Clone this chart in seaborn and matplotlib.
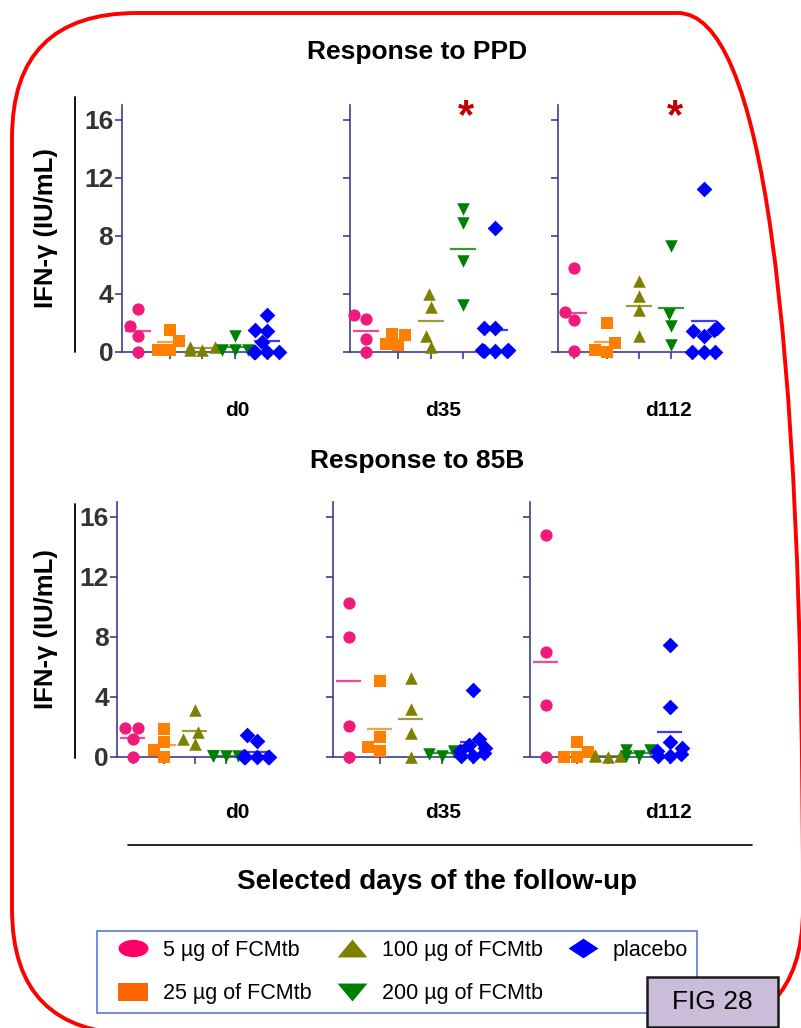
import numpy as np
import pandas as pd
import matplotlib
matplotlib.use("Agg")
import matplotlib.pyplot as plt
import seaborn as sns
from matplotlib.lines import Line2D
from matplotlib.patches import FancyBboxPatch, Rectangle
from matplotlib.path import Path
from matplotlib.transforms import Affine2D

# ---------------------------------------------------------------- data
groups = ["5 \u00b5g of FCMtb", "25 \u00b5g of FCMtb", "100 \u00b5g of FCMtb",
          "200 \u00b5g of FCMtb", "placebo"]
days = ["d0", "d35", "d112"]
yticks = [0, 4, 8, 12, 16]

# IFN-gamma (IU/mL) per subject, one list per dose group
ppd_d0 = [[2.95, 1.75, 1.1, 0.0],
          [1.5, 0.75, 0.15, 0.15],
          [0.35, 0.3, 0.15, 0.1],
          [1.1, 0.1, 0.1, 0.1],
          [2.5, 1.5, 1.45, 0.7, 0.0, 0.0, 0.0, 0.0]]
ppd_d35 = [[2.55, 2.25, 0.85, 0.0],
           [1.25, 1.15, 0.5, 0.45],
           [3.95, 3.1, 1.1, 0.3],
           [9.85, 8.85, 6.25, 3.25],
           [8.5, 1.6, 1.6, 0.1, 0.1, 0.05, 0.05, 0.05]]
ppd_d112 = [[5.8, 2.75, 2.15, 0.05],
            [1.95, 0.6, 0.15, 0.0],
            [4.9, 3.85, 2.9, 1.05],
            [7.25, 2.6, 1.75, 0.45],
            [11.2, 1.6, 1.5, 1.4, 1.1, 0.0, 0.0, 0.0]]
b85_d0 = [[1.95, 1.95, 1.2, 0.0],
          [1.85, 1.0, 0.45, 0.0],
          [3.15, 1.7, 1.2, 0.9],
          [0.05, 0.05, 0.05, 0.05],
          [1.45, 1.1, 0.05, 0.0, 0.0, 0.0, 0.0, 0.0]]
b85_d35 = [[10.3, 8.0, 2.1, 0.0],
           [5.05, 1.35, 0.65, 0.4],
           [5.25, 3.2, 1.6, 0.0],
           [0.4, 0.35, 0.2, 0.1],
           [4.5, 1.2, 0.8, 0.6, 0.4, 0.3, 0.1, 0.1]]
b85_d112 = [[14.8, 7.0, 3.45, 0.0],
            [1.0, 0.35, 0.0, 0.0],
            [0.15, 0.05, 0.05, 0.0],
            [0.5, 0.45, 0.1, 0.05],
            [7.45, 3.35, 1.0, 0.6, 0.4, 0.2, 0.1, 0.1]]

# days with a significant difference (marked with an asterisk above 200 µg)
ppd_signif = ["d35", "d112"]

# ---------------------------------------------------------------- style
colors = ["#f01a7a", "#ff8000", "#808000", "#008000", "#0000ff"]
mean_colors = ["#f2489a", "#ff9f45", "#9c9c3c", "#3a9a3a", "#3c3cff"]
legend_colors = ["#ff0066", "#ff6600", "#808000", "#008000", "#0000ff"]
markers = ["o", "s", "^", "v", "D"]
sizes = [8.8, 8.5, 9, 9, 8]
axis_col = "#3d3d8f"

sns.set_style("ticks")
plt.rcParams["font.family"] = ["Liberation Sans", "DejaVu Sans"]
plt.rcParams["text.color"] = "black"
plt.rcParams["axes.labelcolor"] = "black"

W, H = 801, 1028
fig = plt.figure(figsize=(W / 100, H / 100), dpi=100)


def px_rect(left, top, width, bottom):
    return [left / W, 1 - bottom / H, width / W, (bottom - top) / H]


top_axes = [fig.add_axes(px_rect(l, 105, 161.5, 351.7)) for l in (121.7, 350, 558.3)]
bot_axes = [fig.add_axes(px_rect(l, 502, 155, 757)) for l in (117.3, 333.3, 530)]


def to_frame(panel):
    rows = [(g, v) for g, vals in zip(groups, panel) for v in vals]
    return pd.DataFrame(rows, columns=["group", "value"])


def draw_panel(ax, panel, first):
    df = to_frame(panel)
    for i, g in enumerate(groups):
        sub = df[df["group"] == g]
        sns.swarmplot(data=sub, x="group", y="value", order=groups,
                      color=colors[i], marker=markers[i], size=sizes[i],
                      linewidth=0, warn_thresh=1, ax=ax, zorder=3)
        ax.hlines(sub["value"].mean(), i - 0.4, i + 0.4,
                  color=mean_colors[i], lw=1.6, zorder=2)
    for coll in ax.collections:
        coll.set_clip_on(False)
    ax.set_xlim(-0.5, 4.5)
    ax.set_ylim(0, 17)
    ax.set_yticks(yticks)
    ax.set_xticks(range(len(groups)))
    ax.set_xlabel("")
    ax.set_ylabel("")
    for s in ("top", "right"):
        ax.spines[s].set_visible(False)
    for s in ("left", "bottom"):
        ax.spines[s].set_color(axis_col)
        ax.spines[s].set_linewidth(1.2)
    ax.tick_params(axis="both", direction="out", length=5, width=1.2,
                   color=axis_col, labelbottom=False, pad=1)
    ax.patch.set_alpha(0)
    if first:
        ax.set_yticklabels([str(t) for t in yticks], fontsize=19,
                           fontweight="bold", color="#333333")
        ax.set_ylabel("IFN-\u03b3 (IU/mL)", fontsize=18.5, fontweight="bold",
                      color="black")
    else:
        ax.tick_params(axis="y", labelleft=False)


for k, (ax, panel) in enumerate(zip(top_axes, [ppd_d0, ppd_d35, ppd_d112])):
    draw_panel(ax, panel, k == 0)
    if days[k] in ppd_signif:
        ax.text(3.1, 15.4, "*", ha="center", va="baseline", fontsize=30,
                fontweight="bold", color="#c00000", clip_on=False)
for k, (ax, panel) in enumerate(zip(bot_axes, [b85_d0, b85_d35, b85_d112])):
    draw_panel(ax, panel, k == 0)

top_axes[0].yaxis.set_label_coords((58 - 121.7) / 161.5, 0.5)
bot_axes[0].yaxis.set_label_coords((58 - 117.3) / 155, 0.5)

# thin rules beside the y-axis titles
fig.add_artist(Line2D([75 / W] * 2, [1 - 97 / H, 1 - 352 / H], color="black", lw=1.3))
fig.add_artist(Line2D([75 / W] * 2, [1 - 504 / H, 1 - 758 / H], color="black", lw=1.3))

# section titles and day labels
fig.text(417 / W, 1 - 52 / H, "Response to PPD", ha="center", va="center",
         fontsize=19, fontweight="bold")
fig.text(417 / W, 1 - 461 / H, "Response to 85B", ha="center", va="center",
         fontsize=19, fontweight="bold")
for d, xt, xb in zip(days, (237, 443, 668), (237, 443, 668)):
    fig.text(xt / W, 1 - 410 / H, d, ha="center", va="center", fontsize=15,
             fontweight="bold")
    fig.text(xb / W, 1 - 813 / H, d, ha="center", va="center", fontsize=15,
             fontweight="bold")

fig.add_artist(Line2D([128 / W, 752 / W], [1 - 845 / H] * 2, color="black", lw=1.2))
fig.text(437 / W, 1 - 882 / H, "Selected days of the follow-up", ha="center",
         va="center", fontsize=20, fontweight="bold")

# legend
ellipse = Path.unit_circle().transformed(Affine2D().scale(1.0, 0.58))
rect = Path([(-1, -0.62), (1, -0.62), (1, 0.62), (-1, 0.62), (-1, -0.62)],
            [1, 2, 2, 2, 79])
tri_up = Path([(-1, -0.6), (1, -0.6), (0, 0.6), (-1, -0.6)], [1, 2, 2, 79])
tri_dn = Path([(-1, 0.6), (1, 0.6), (0, -0.6), (-1, 0.6)], [1, 2, 2, 79])
diamond = Path([(-1, 0), (0, 0.66), (1, 0), (0, -0.66), (-1, 0)], [1, 2, 2, 2, 79])
leg_markers = [ellipse, rect, tri_up, tri_dn, diamond]
handles = [Line2D([], [], linestyle="none", marker=m, markersize=21.5,
                  markerfacecolor=c, markeredgewidth=0)
           for m, c in zip(leg_markers, legend_colors)]
leg = fig.legend(handles, groups, ncol=3, loc="upper left",
                 bbox_to_anchor=(97 / W, 1 - 931 / H), fontsize=15.5,
                 frameon=True, fancybox=False, edgecolor="#5b7bd5",
                 framealpha=1, borderpad=0.4, handlelength=2.55,
                 handletextpad=0.11, columnspacing=0.6, labelspacing=1.05,
                 borderaxespad=0)
leg.get_frame().set_linewidth(1.2)

# rounded red frame around the figure
fig.add_artist(FancyBboxPatch((0.12, -0.06), 7.91, 10.21,
                              boxstyle="round,pad=0,rounding_size=1.25",
                              transform=fig.dpi_scale_trans, fill=False,
                              edgecolor="#ff0000", lw=2.8, zorder=1))

# figure tag
fig.add_artist(Rectangle((647 / W, 1 - 1027 / H), 131 / W, 50 / H,
                         facecolor="#c9bdd9", edgecolor="#1a1a1a", lw=1.8,
                         zorder=20))
fig.text(712.5 / W, 1 - 1002 / H, "FIG 28", ha="center", va="center",
         fontsize=19, zorder=21)

fig.savefig("out.png", dpi=100)
